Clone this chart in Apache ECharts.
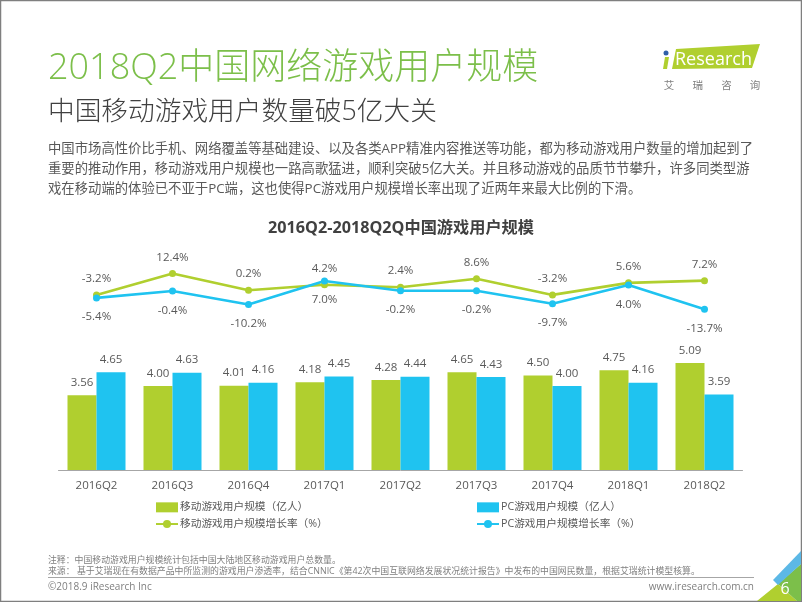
<!DOCTYPE html>
<html>
<head>
<meta charset="utf-8">
<script src="https://cdn.jsdelivr.net/npm/echarts@6/dist/echarts.min.js"></script>
<style>
html,body{margin:0;padding:0;background:#fff}
#main{width:802px;height:602px}
</style>
</head>
<body>
<div id="main"></div>
<script>
const categories = ['2016Q2','2016Q3','2016Q4','2017Q1','2017Q2','2017Q3','2017Q4','2018Q1','2018Q2'];
const mobileUsers = [3.56,4.00,4.01,4.18,4.28,4.65,4.50,4.75,5.09];
const pcUsers = [4.65,4.63,4.16,4.45,4.44,4.43,4.00,4.16,3.59];
const mobileGrowth = [-3.2,12.4,0.2,4.2,2.4,8.6,-3.2,5.6,7.2];
const pcGrowth = [-5.4,-0.4,-10.2,7.0,-0.2,-0.2,-9.7,4.0,-13.7];

const bodyLines = [
    '中国市场高性价比手机、网络覆盖等基础建设、以及各类APP精准内容推送等功能，都为移动游戏用户数量的增加起到了',
    '重要的推动作用，移动游戏用户规模也一路高歌猛进，顺利突破5亿大关。并且移动游戏的品质节节攀升，许多同类型游',
    '戏在移动端的体验已不亚于PC端，这也使得PC游戏用户规模增长率出现了近两年来最大比例的下滑。'
];
const noteLines = [
    '注释：中国移动游戏用户规模统计包括中国大陆地区移动游戏用户总数量。',
    '来源： 基于艾瑞现在有数据产品中所监测的游戏用户渗透率，结合CNNIC《第42次中国互联网络发展状况统计报告》中发布的中国网民数量，根据艾瑞统计模型核算。'
];
const logoChars = ['艾','瑞','咨','询'];

const GREEN = '#b0cf2f', BLUE = '#1fc3f0', TEXT = '#595959';
const FONT = '"Open Sans","Noto Sans CJK SC",sans-serif';

function txt(x, y, text, size, fill, extra){
    return {type:'text', x:x, y:y, style:Object.assign({text:text, fontSize:size, fill:fill, fontFamily:FONT, textVerticalAlign:'middle'}, extra||{})};
}
function poly(points, fill){
    return {type:'polygon', shape:{points:points}, style:{fill:fill}};
}

const graphics = [
    {type:'rect', shape:{x:0.5,y:0.5,width:801,height:601}, style:{fill:'none',stroke:'#7f7f7f',lineWidth:1.5}},
    txt(48, 69, '2018Q2中国网络游戏用户规模', 36, '#7cbf4a', {fontWeight:300}),
    txt(48, 112, '中国移动游戏用户数量破5亿大关', 26.7, '#404040', {fontWeight:300}),
    txt(401, 228, '2016Q2-2018Q2Q中国游戏用户规模', 16.2, '#404040', {fontWeight:'bold', textAlign:'center'}),
    // logo
    poly([[676,49],[760,44],[752,68],[672,69]], '#b0cf2f'),
    {type:'circle', shape:{cx:666,cy:53,r:2.5}, style:{fill:'#2f5fa8'}},
    poly([[665,57],[669,57],[667,69],[663,69]], '#b0cf2f'),
    txt(675, 60, 'Research', 18, '#fff'),
    // footer
    {type:'line', shape:{x1:48,y1:577.5,x2:754,y2:577.5}, style:{stroke:'#a6a6a6',lineWidth:1}},
    txt(48, 587, '©2018.9 iResearch Inc', 10, '#7f7f7f'),
    txt(754, 587, 'www.iresearch.com.cn', 10, '#7f7f7f', {textAlign:'right'}),
    // corner
    poly([[757,601],[778,584],[797,601]], '#b0cf2f'),
    poly([[778,584],[801,564],[801,601],[797,601]], '#7cbf4a'),
    poly([[773,580],[801,551],[801,564],[778,585]], '#5cb8e6'),
    txt(785, 589, '6', 16, '#fff', {textAlign:'center'})
];
bodyLines.forEach(function(s, i){
    graphics.push(txt(48, 149 + i*20, s, 13.35, TEXT));
});
noteLines.forEach(function(s, i){
    graphics.push(txt(48, 560 + i*11, s, 8.9, '#7f7f7f'));
});
logoChars.forEach(function(s, i){
    graphics.push(txt(669 + i*28.7, 86, s, 10.5, '#7f7f7f', {textAlign:'center'}));
});

function pct(p){ return p.value.toFixed(1) + '%'; }
function num(p){ return p.value.toFixed(2); }

const chart = echarts.init(document.getElementById('main'), null, {renderer:'canvas'});
chart.setOption({
    animation:false,
    textStyle:{fontFamily:FONT},
    graphic:graphics,
    legend:[
        {left:155, top:502, itemWidth:22, itemHeight:10, itemGap:6, orient:'vertical',
         data:[{name:'移动游戏用户规模（亿人）',icon:'rect'},{name:'移动游戏用户规模增长率（%）'}],
         textStyle:{color:TEXT,fontSize:10.7,padding:[0,0,0,-3]}, padding:0},
        {left:476, top:502, itemWidth:22, itemHeight:10, itemGap:6, orient:'vertical',
         data:[{name:'PC游戏用户规模（亿人）',icon:'rect'},{name:'PC游戏用户规模增长率（%）'}],
         textStyle:{color:TEXT,fontSize:10.7,padding:[0,0,0,-3]}, padding:0}
    ],
    grid:{left:58.5, right:59.5, top:239, bottom:132},
    xAxis:{
        type:'category', data:categories,
        axisTick:{show:false},
        axisLine:{lineStyle:{color:'#a6a6a6',width:1}},
        axisLabel:{color:TEXT,fontSize:11.5,margin:10}
    },
    yAxis:[
        {type:'value', min:0, max:11, show:false, splitLine:{show:false}},
        {type:'value', min:-131, max:37.6, show:false, splitLine:{show:false}}
    ],
    series:[
        {name:'移动游戏用户规模（亿人）', type:'bar', data:mobileUsers, barWidth:29, barGap:'0%',
         itemStyle:{color:GREEN}, label:{show:true,position:'top',distance:7,color:TEXT,fontSize:11.5,formatter:num}},
        {name:'PC游戏用户规模（亿人）', type:'bar', data:pcUsers, barWidth:29,
         itemStyle:{color:BLUE}, label:{show:true,position:'top',distance:7,color:TEXT,fontSize:11.5,formatter:num}},
        {name:'移动游戏用户规模增长率（%）', type:'line', yAxisIndex:1, data:mobileGrowth,
         symbol:'circle', symbolSize:7, lineStyle:{color:GREEN,width:2.6}, itemStyle:{color:GREEN},
         label:{show:true,position:'top',distance:7,color:TEXT,fontSize:11.5,formatter:pct}},
        {name:'PC游戏用户规模增长率（%）', type:'line', yAxisIndex:1, data:pcGrowth,
         symbol:'circle', symbolSize:7, lineStyle:{color:BLUE,width:2.6}, itemStyle:{color:BLUE},
         label:{show:true,position:'bottom',distance:10,color:TEXT,fontSize:11.5,formatter:pct}}
    ]
});
</script>
</body>
</html>
